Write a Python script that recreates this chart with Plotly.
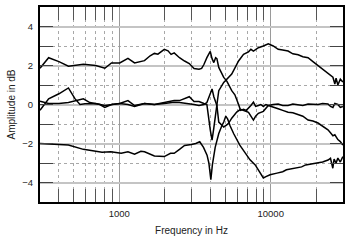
import math
import plotly.graph_objects as go

# ---- data ----
freq_a = [300, 342, 400, 462, 580, 700, 804, 889, 1008, 1142, 1263, 1350, 1468, 1600, 1707, 1800,
          1984, 2100, 2200, 2306, 2500, 2700, 2900, 3117, 3361, 3500, 3623, 3790, 3906, 3990, 4100,
          4212, 4330, 4413, 4541, 4750, 4896, 5130, 5279, 5530, 5800, 5963, 6136, 6320, 6616, 6900,
          7133, 7400, 7690, 7950, 8291, 8600, 8940, 9300, 9638, 10000, 10390, 11200, 12000, 13020,
          14000, 15170, 16300, 17640, 19000, 20520, 22000, 23870, 24800, 25740, 26500, 27750, 28800, 29930]
db_a = [1.86, 2.40, 2.2, 1.96, 2.07, 2.0, 1.86, 2.13, 2.13, 2.37, 2.13, 2.2, 2.25, 2.5, 2.62, 2.58,
        2.83, 2.75, 2.57, 2.65, 2.4, 2.23, 2.1, 1.85, 1.81, 1.85, 2.05, 2.4, 2.6, 2.72, 2.35,
        2.15, 2.4, 2.35, 1.9, 1.6, 1.39, 1.2, 1.0, 0.71, 0.5, 0.29, 0.0, -0.3, -0.25, -0.3,
        -0.2, -0.05, 0.12, -0.1, -0.05, 0.0, -0.1, 0.0, -0.05, -0.1, -0.15, -0.22, -0.3, -0.4,
        -0.42, -0.5, -0.6, -0.8, -0.85, -0.95, -1.1, -1.3, -1.45, -1.6, -1.55, -1.8, -1.9, -2.08]

freq_b = [300, 342, 400, 462, 510, 551, 594, 700, 804, 889, 1008, 1142, 1263, 1468, 1707, 1984,
          2306, 2500, 2900, 3117, 3361, 3623, 3790, 3990, 4100, 4212, 4413, 4541, 4750, 4896, 5130,
          5279, 5530, 5963, 6320, 6616, 7133, 7400, 7690, 7950, 8291, 8940, 9638, 10390, 11200,
          12000, 13020, 14000, 15170, 16300, 17640, 19000, 20520, 22000, 23870, 24800, 25740,
          26500, 27750, 28800, 29930]
db_b = [-0.3, 0.29, 0.55, 0.85, 0.3, 0.0, 0.04, 0.05, -0.05, 0.0, 0.05, 0.2, -0.05, 0.05, 0.0, 0.05,
        0.12, 0.1, 0.05, 0.0, -0.05, 0.0, 0.1, 0.6, 0.8, 0.4, -0.05, -0.9, -1.05, -1.15, -1.05,
        -0.95, -0.7, -0.39, -0.25, -0.3, -0.4, -0.6, -0.8, -0.6, -0.45, -0.35, -0.05, 0.0, 0.03,
        -0.05, -0.05, 0.02, 0.0, -0.05, 0.03, 0.0, 0.0, 0.05, 0.03, -0.1, -0.15,
        0.05, 0.0, -0.15, -0.1]

freq_c = [300, 342, 400, 462, 580, 640, 745, 803, 889, 1008, 1142, 1263, 1468, 1707, 1984, 2306,
          2500, 2700, 2900, 3117, 3361, 3623, 3790, 3990, 4100, 4212, 4413, 4541, 4896, 5130, 5530,
          6136, 6616, 7133, 7400, 7690, 8291, 8940, 9638, 10390, 11200, 12000, 13020, 14000, 15170,
          16300, 17640, 19000, 20520, 22000, 23870, 24800, 25740, 26500, 27000, 27750, 28800, 29930]
db_c = [0.17, 0.05, 0.05, 0.1, 0.29, 0.1, 0.0, -0.15, 0.0, 0.05, 0.0, -0.1, 0.05, 0.0, 0.1, 0.2,
        0.2, 0.3, 0.4, 0.15, 0.15, 0.05, 0.0, -1.3, -1.83, -1.2, -0.14, 0.71, 1.13, 1.3, 1.56,
        2.23, 2.57, 2.7, 2.83, 2.74, 2.91, 3.0, 3.11, 3.0, 2.83, 2.8, 2.74, 2.6, 2.55,
        2.45, 2.4, 2.2, 2.0, 1.85, 1.6, 1.5, 1.4, 1.05, 1.35, 1.0, 1.3, 1.15]

freq_d = [300, 351, 462, 580, 770, 880, 1030, 1142, 1263, 1390, 1470, 1707, 1984, 2180, 2306, 2500,
          2700, 3000, 3200, 3400, 3600, 3800, 3906, 4025, 4120, 4300, 4541, 4750, 4896, 5050, 5200,
          5400, 5700, 6250, 6800, 7300, 7900, 8500, 8940, 9300, 9900, 11000, 12000, 12700, 14500,
          16000, 17000, 18500, 20500, 22000, 23900, 24800, 25700, 26200, 27000, 27750, 28800, 29930]
db_d = [-2.0, -2.03, -2.08, -2.3, -2.45, -2.42, -2.5, -2.42, -2.55, -2.4, -2.42, -2.64, -2.67, -2.5, -2.5, -2.3,
        -2.1, -2.05, -2.0, -1.91, -2.2, -2.6, -3.0, -3.86, -3.1, -2.2, -1.49, -1.1, -0.9, -0.6, -0.75,
        -1.1, -1.5, -2.08, -2.5, -2.84, -3.1, -3.52, -3.77, -3.7, -3.6, -3.52, -3.45, -3.35, -3.27,
        -3.2, -3.1, -3.05, -3.0, -2.95, -2.85, -2.76, -3.27, -2.8, -3.0, -2.75, -2.95, -2.67]

x_major = [1000, 10000]
x_major_text = ["1000", "10000"]
x_minor = [400, 500, 600, 700, 800, 900, 2000, 3000, 4000, 5000, 6000, 7000, 8000, 9000, 20000]
y_major = [-4, -2, 0, 2, 4]
y_minor = [-3, -1, 1, 3]

FONT = "Liberation Sans, Arial, Helvetica, sans-serif"

fig = go.Figure()
for fx, fy in [(freq_a, db_a), (freq_b, db_b), (freq_c, db_c), (freq_d, db_d)]:
    fig.add_trace(go.Scatter(x=fx, y=fy, mode="lines",
                             line=dict(color="black", width=1.5),
                             showlegend=False, hoverinfo="skip"))

fig.update_layout(
    width=350, height=240,
    margin=dict(l=40, r=5, t=5, b=38),
    paper_bgcolor="white", plot_bgcolor="white",
    font=dict(family=FONT, size=10, color="#222"),
    xaxis=dict(
        type="log", range=[math.log10(300), math.log10(30000)],
        tickmode="array", tickvals=x_major, ticktext=x_major_text,
        ticks="", showgrid=True, gridcolor="#9a9a9a", gridwidth=1,
        showline=True, linecolor="black", linewidth=2, mirror="allticks",
        tickfont=dict(size=9.5, color="#222"),
        ticklabelstandoff=2,
        title=dict(text="Frequency in Hz", font=dict(size=10, color="#222"), standoff=9),
        minor=dict(tickmode="array", tickvals=x_minor, ticks="inside", ticklen=13,
                   tickcolor="#555", tickwidth=1, showgrid=True, gridcolor="#a8a8a8",
                   griddash="dot", gridwidth=1),
        zeroline=False,
    ),
    yaxis=dict(
        range=[-5, 5],
        tickmode="array", tickvals=y_major,
        ticks="inside", ticklen=13, tickcolor="#444", tickwidth=1,
        showgrid=True, gridcolor="#c4c4c4", gridwidth=1.5,
        showline=True, linecolor="black", linewidth=2, mirror="allticks",
        tickfont=dict(size=9.5, color="#222"),
        ticklabelstandoff=3,
        title=dict(text="Amplitude in dB", font=dict(size=10, color="#222"), standoff=5),
        minor=dict(tickmode="array", tickvals=y_minor, ticks="inside", ticklen=13,
                   tickcolor="#444", tickwidth=1, showgrid=True, gridcolor="#a8a8a8",
                   griddash="dot", gridwidth=1),
        zeroline=False,
    ),
)

fig.write_html("out.html")
